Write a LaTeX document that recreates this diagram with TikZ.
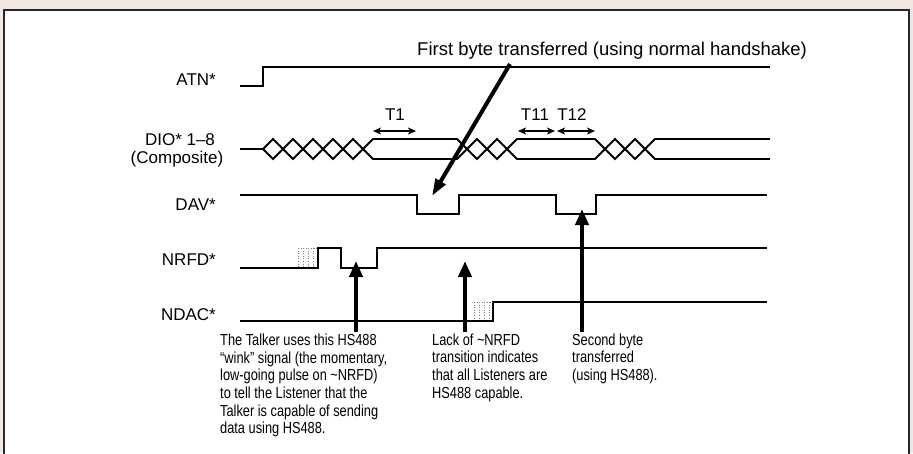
\documentclass[tikz,border=0pt]{standalone}
\usepackage{fontspec}
\setmainfont{Liberation Sans}
\newfontfamily\narrowfont[FakeStretch=0.8]{Liberation Sans}
\usetikzlibrary{arrows.meta}
\definecolor{bgbeige}{RGB}{241,231,226}
\definecolor{framegray}{RGB}{40,40,40}
\begin{document}
\begin{tikzpicture}[x=1pt,y=-1pt,
  sig/.style={line width=1.8pt, line join=miter},
  lbl/.style={anchor=base east, inner sep=0pt, font=\fontsize{17}{20}\selectfont},
  clbl/.style={anchor=base, inner sep=0pt, font=\fontsize{17}{20}\selectfont},
  note/.style={anchor=north west, inner sep=0pt, align=left, font=\narrowfont\fontsize{16}{17.7}\selectfont},
  bigarrow/.style={line width=4.5pt, -{Triangle[length=16pt,width=13pt]}},
  tarrow/.style={line width=1.4pt, {Stealth[length=8pt,width=7pt,inset=2pt]}-{Stealth[length=8pt,width=7pt,inset=2pt]}},
  hatch/.style={gray, line width=0.6pt, dotted}
]
\useasboundingbox (0,0) rectangle (913,453);
\clip (0,0) rectangle (913,453);
\fill[bgbeige] (0,0) rectangle (913,453);
\draw[framegray, line width=1.6pt, fill=white] (4,10) rectangle (909,470);

% header
\node[anchor=base west, inner sep=0pt, font=\fontsize{18.5}{21}\selectfont] (hdr) at (417,55) {First byte transferred (using normal handshake)};

% signal labels
\node[lbl] (atn) at (216,85) {ATN*};
\node[clbl] (dio1) at (180,145) {DIO* 1–8};
\node[clbl] (dio2) at (177,163) {(Composite)};
\node[lbl] (dav) at (216,210) {DAV*};
\node[lbl] (nrfd) at (216,265) {NRFD*};
\node[lbl] (ndac) at (216,320) {NDAC*};

% timing labels
\node[clbl] (t1) at (395,120) {T1};
\node[clbl] (t11) at (535,120) {T11};
\node[clbl] (t12) at (572,120) {T12};

% waveforms
\draw[sig] (240,86) -- (263,86) -- (263,67) -- (770,67);
\draw[sig] (240,149) -- (263,149)
  -- (273,139) -- (283,149) -- (293,139) -- (303,149) -- (313,139) -- (323,149)
  -- (333,139) -- (343,149) -- (353,139) -- (363,149) -- (373,139) -- (457,139)
  -- (467,149) -- (477,139) -- (487,149) -- (497,139) -- (507,149) -- (517,139)
  -- (595,139) -- (605,149) -- (615,139) -- (625,149) -- (635,139) -- (645,149)
  -- (655,139) -- (770,139);
\draw[sig] (263,149)
  -- (273,159) -- (283,149) -- (293,159) -- (303,149) -- (313,159) -- (323,149)
  -- (333,159) -- (343,149) -- (353,159) -- (363,149) -- (373,159) -- (457,159)
  -- (467,149) -- (477,159) -- (487,149) -- (497,159) -- (507,149) -- (517,159)
  -- (595,159) -- (605,149) -- (615,159) -- (625,149) -- (635,159) -- (645,149)
  -- (655,159) -- (770,159);
\draw[sig] (240,195) -- (417,195) -- (417,214) -- (459,214) -- (459,195) -- (556,195)
  -- (556,214) -- (596,214) -- (596,195) -- (767,195);
\draw[sig] (240,268) -- (318,268) -- (318,248) -- (341,248) -- (341,268) -- (377,268)
  -- (377,248) -- (767,248);
\draw[sig] (240,321) -- (493,321) -- (493,302) -- (767,302);

% uncertainty hatches
\foreach \x in {298,303,308,313} \draw[hatch] (\x,248) -- (\x,267);
\draw[hatch] (298,248) -- (318,248);
\foreach \x in {474,479,484,489} \draw[hatch] (\x,302) -- (\x,320);
\draw[hatch] (474,302) -- (493,302);

% timing arrows
\coordinate (t1a) at (373,131); \coordinate (t1b) at (416,131);
\coordinate (t11a) at (518,131); \coordinate (t11b) at (555,131);
\coordinate (t12a) at (557,131); \coordinate (t12b) at (595,131);
\draw[tarrow] (t1a) -- (t1b);
\draw[tarrow] (t11a) -- (t11b);
\draw[tarrow] (t12a) -- (t12b);

% notes
\node[note] (text1) at (220,333.5) {The Talker uses this HS488\\“wink” signal (the momentary,\\low-going pulse on \textasciitilde NRFD)\\to tell the Listener that the\\Talker is capable of sending\\data using HS488.};
\node[note] (text2) at (432,333.5) {Lack of \textasciitilde NRFD\\transition indicates\\that all Listeners are\\HS488 capable.};
\node[note] (text3) at (572,333.5) {Second byte\\transferred\\(using HS488).};

% pointer arrows
\coordinate (w1) at (356,261);
\coordinate (w2) at (465,261);
\coordinate (w3) at (582,209);
\draw[bigarrow, shorten <=2pt] (text1.north -| w1) -- (w1);
\draw[bigarrow, shorten <=2pt] (text2.north -| w2) -- (w2);
\draw[bigarrow, shorten <=2pt] (text3.north -| w3) -- (w3);
\coordinate (d0) at (510,64);
\coordinate (d1) at (432,196);
\draw[line width=4pt, -{Triangle[length=17pt,width=11pt]}] (d0) -- (d1);
\end{tikzpicture}
\end{document}
